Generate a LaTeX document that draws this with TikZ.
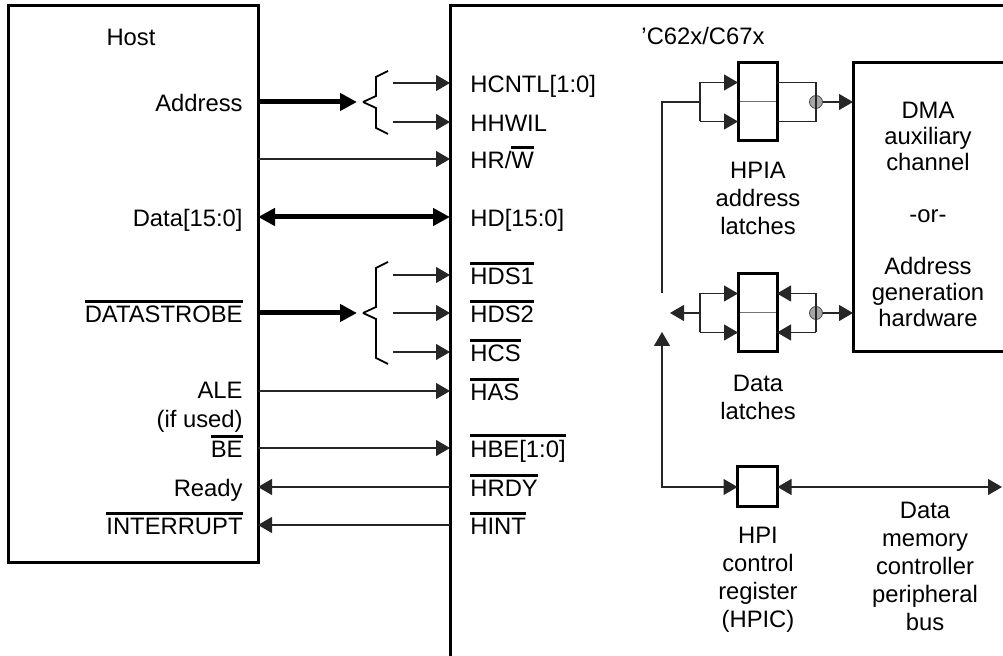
\documentclass[tikz,border=0pt]{standalone}
\usepackage{fontspec}
\setmainfont{Liberation Sans}
\usetikzlibrary{arrows.meta}

\newcommand{\lblfont}{\fontsize{11.9pt}{14pt}\selectfont}
\newcommand{\ovl}[1]{\setbox0\hbox{#1}\rlap{\rule[\dimexpr\ht0+1.4pt\relax]{\wd0}{1.6pt}}\box0}

\begin{document}
\begin{tikzpicture}[x=0.5pt, y=-0.5pt, every node/.style={font=\lblfont},
    box/.style={draw, line width=1.5pt, outer sep=0pt, inner sep=0pt},
    half/.style={draw=black!55, line width=0.5pt, minimum width=19.5pt, minimum height=19.5pt, inner sep=0pt, outer sep=0pt, anchor=north west},
    lsig/.style={anchor=east, inner sep=0pt, text height=9.4pt, text depth=0pt},
    rsig/.style={anchor=west, inner sep=0pt, text height=9.4pt, text depth=0pt},
    caption/.style={align=center},
    wire/.style={line width=0.6pt, draw=black!85},
    sig/.style={wire, -{Triangle[length=7pt, width=8pt]}},
    dsig/.style={wire, {Triangle[length=7pt, width=8pt]}-{Triangle[length=7pt, width=8pt]}},
    bus/.style={line width=2.5pt, -{Triangle[length=8.5pt, width=8.5pt]}},
    dbus/.style={line width=2.5pt, {Triangle[length=8.5pt, width=8.5pt]}-{Triangle[length=8.5pt, width=8.5pt]}},
    brace/.style={line width=0.9pt}]
    \useasboundingbox (0,0) rectangle (1003,656);
    \clip (0,0) rectangle (1003,656);

    % Boxes
    \node[box, minimum width=125pt, minimum height=278.5pt] (host) at (133,284.5) {};
    \node[box, minimum width=330pt, minimum height=350pt, anchor=north west] (chip) at (450,6) {};
    \node[box, minimum width=100pt, minimum height=144.5pt, anchor=north west] (dma) at (853,63) {};
    \node (hostName) at (131,37) {Host};
    \node (chipName) at (703,36) {'C62x/C67x};

    % Host side signals
    \node[lsig] (lAddr) at (243,102) {Address};
    \node[lsig] (lData) at (243,217) {Data[15:0]};
    \node[lsig] (lStrobe) at (243,313) {\ovl{DATASTROBE}};
    \node[lsig] (lAle) at (243,389) {ALE};
    \node[lsig] (lUsed) at (243,418) {(if used)};
    \node[lsig] (lBe) at (243,448) {\ovl{BE}};
    \node[lsig] (lReady) at (243,487) {Ready};
    \node[lsig] (lInt) at (243,525) {\ovl{INTERRUPT}};

    % HPI pins
    \node[rsig] (rHCNTL) at (470,83) {HCNTL[1:0]};
    \node[rsig] (rHHWIL) at (470,122) {HHWIL};
    \node[rsig] (rHRW) at (470,159) {HR/\ovl{W}};
    \node[rsig] (rHD) at (470,217) {HD[15:0]};
    \node[rsig] (rHDS1) at (470,275) {\ovl{HDS1}};
    \node[rsig] (rHDS2) at (470,313) {\ovl{HDS2}};
    \node[rsig] (rHCS) at (470,352) {\ovl{HCS}};
    \node[rsig] (rHAS) at (470,391) {\ovl{HAS}};
    \node[rsig] (rHBE) at (470,448) {\ovl{HBE[1:0]}};
    \node[rsig] (rHRDY) at (470,487) {\ovl{HRDY}};
    \node[rsig] (rHINT) at (470,525) {\ovl{HINT}};

    % Braces
    \coordinate (brA) at (363,102);
    \coordinate (brS) at (363,313);
    \draw[brace] (brA) -- ++(13,-6) -- ++(0,-19) -- ++(12,-6);
    \draw[brace] (brA) -- ++(13,6) -- ++(0,20) -- ++(12,6);
    \draw[brace] (brS) -- ++(13,-6) -- ++(0,-39) -- ++(12,-6);
    \draw[brace] (brS) -- ++(13,6) -- ++(0,39) -- ++(12,6);

    % Host to HPI
    \draw[bus, shorten >=3pt] (host.east |- lAddr) -- (brA);
    \draw[sig, shorten <=15pt] (brA |- rHCNTL) -- (chip.west |- rHCNTL);
    \draw[sig, shorten <=15pt] (brA |- rHHWIL) -- (chip.west |- rHHWIL);
    \draw[sig] (host.east |- rHRW) -- (chip.west |- rHRW);
    \draw[dbus] (host.east |- rHD) -- (chip.west |- rHD);
    \draw[bus, shorten >=3pt] (host.east |- lStrobe) -- (brS);
    \draw[sig, shorten <=15pt] (brS |- rHDS1) -- (chip.west |- rHDS1);
    \draw[sig, shorten <=15pt] (brS |- rHDS2) -- (chip.west |- rHDS2);
    \draw[sig, shorten <=15pt] (brS |- rHCS) -- (chip.west |- rHCS);
    \draw[sig] (host.east |- rHAS) -- (chip.west |- rHAS);
    \draw[sig] (host.east |- rHBE) -- (chip.west |- rHBE);
    \draw[sig] (chip.west |- rHRDY) -- (host.east |- rHRDY);
    \draw[sig] (chip.west |- rHINT) -- (host.east |- rHINT);

    % Latches and register
    \node[half] (haT) at (738,63) {};
    \node[half] (haB) at (haT.south west) {};
    \node[half] (dlT) at (738,274) {};
    \node[half] (dlB) at (dlT.south west) {};
    \draw[box] (haT.north west) rectangle (haB.south east);
    \draw[box] (dlT.north west) rectangle (dlB.south east);
    \node[box, minimum size=20pt] (hpic) at (757.5,487) {};
    \node[circle, draw=black!70, fill=black!35, minimum size=6.5pt, inner sep=0pt] (jA) at (816,102) {};
    \node[circle, draw=black!70, fill=black!35, minimum size=6.5pt, inner sep=0pt] (jD) at (816,313) {};
    \coordinate (forkA) at (700,102);
    \coordinate (tapA) at (662,102);
    \coordinate (forkD) at (700,313);
    \coordinate (dOut) at (670,313);
    \coordinate (tapC) at (662,487);
    \coordinate (upTip) at (662,332);
    \coordinate (busEnd) at (1002,487);

    % HPIA address latches
    \draw[wire] (forkA |- haT) -- (forkA |- haB);
    \draw[sig] (forkA |- haT) -- (haT.west);
    \draw[sig] (forkA |- haB) -- (haB.west);
    \draw[wire] (haT.east) -- (jA |- haT) -- (jA |- haB) -- (haB.east);
    \draw[sig] (jA) -- (dma.west |- jA);
    \draw[wire] (forkA) -- (tapA) -- (tapA |- dlT);

    % Data latches
    \draw[wire] (forkD |- dlT) -- (forkD |- dlB);
    \draw[sig] (forkD |- dlT) -- (dlT.west);
    \draw[sig] (forkD |- dlB) -- (dlB.west);
    \draw[sig] (forkD) -- (dOut);
    \draw[wire] (jD |- dlT) -- (jD |- dlB);
    \draw[sig] (jD |- dlT) -- (dlT.east);
    \draw[sig] (jD |- dlB) -- (dlB.east);
    \draw[sig] (jD) -- (dma.west |- jD);

    % HPIC and peripheral bus
    \draw[dsig] (upTip) -- (tapC) -- (hpic.west);
    \draw[dsig] (hpic.east) -- (busEnd);

    % Captions
    \node[caption] (haCap) at (758,198) {HPIA\\address\\latches};
    \node[caption] (dlCap) at (758,397) {Data\\latches};
    \node[caption] (hpicCap) at (758,580) {HPI\\control\\register\\(HPIC)};
    \node[caption] (busCap) at (925,566) {Data\\memory\\controller\\peripheral\\bus};
    \node[caption, font=\fontsize{11.9pt}{13pt}\selectfont] (dmaCap) at (928,214)
        {DMA\\auxiliary\\channel\\[13pt]-or-\\[13pt]Address\\generation\\hardware};
\end{tikzpicture}
\end{document}
